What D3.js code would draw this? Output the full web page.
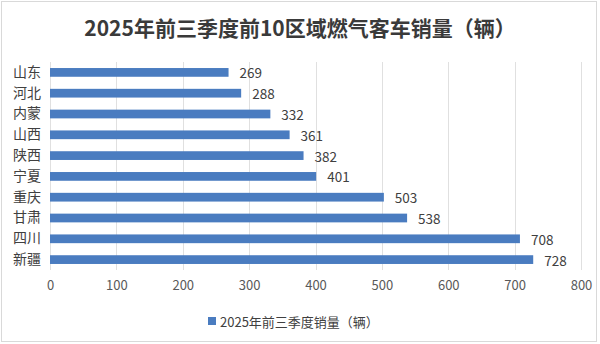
<!DOCTYPE html>
<html><head><meta charset="utf-8">
<script src="https://cdn.jsdelivr.net/npm/d3@7"></script>
<style>
html,body{margin:0;padding:0;background:#fff;}
svg{display:block;font-family:"Noto Sans CJK SC","Microsoft YaHei",sans-serif;}
</style></head>
<body>
<svg id="c" width="600" height="344"></svg>
<script>
const title = "2025年前三季度前10区域燃气客车销量（辆）";
const seriesName = "2025年前三季度销量（辆）";
const categories = ["山东","河北","内蒙","山西","陕西","宁夏","重庆","甘肃","四川","新疆"];
const values = [269,288,332,361,382,401,503,538,708,728];
const xTicks = [0,100,200,300,400,500,600,700,800];

const svg = d3.select("#c");
svg.append("rect").attr("x",1.5).attr("y",1.5).attr("width",595).attr("height",340)
  .attr("fill","#fff").attr("stroke","#d9d9d9").attr("stroke-width",1);

const x = d3.scaleLinear().domain([0,800]).range([50,581]);
const y = d3.scaleBand().domain(categories).range([62,270]).paddingInner(0.58).paddingOuter(0.29);

svg.append("text").attr("x",300).attr("y",27).attr("text-anchor","middle")
  .attr("dominant-baseline","central").attr("font-size",21).attr("font-weight","bold")
  .attr("fill","#3a3a3a").text(title);

// gridlines
svg.append("g").selectAll("line").data(xTicks).join("line")
  .attr("x1",d=>Math.round(x(d))+0.5).attr("x2",d=>Math.round(x(d))+0.5)
  .attr("y1",62).attr("y2",270).attr("stroke","#e0e0e0").attr("stroke-width",1);

// x axis labels via axis
const xAxis = svg.append("g").attr("transform","translate(0,282)")
  .call(d3.axisBottom(x).tickValues(xTicks).tickSize(0).tickPadding(0));
xAxis.select(".domain").remove();
xAxis.selectAll("text").attr("font-size",13).attr("fill","#595959")
  .attr("font-family","'Noto Sans CJK SC',sans-serif").attr("dy","0.6em");

// y axis labels
const yAxis = svg.append("g").attr("transform","translate(41,0)")
  .call(d3.axisLeft(y).tickSize(0).tickPadding(0));
yAxis.select(".domain").remove();
yAxis.selectAll("text").attr("font-size",14).attr("fill","#404040")
  .attr("font-family","'Noto Sans CJK SC',sans-serif");

// bars
svg.append("g").selectAll("rect").data(categories).join("rect")
  .attr("x",x(0)).attr("y",(d)=>y(d)).attr("height",y.bandwidth())
  .attr("width",(d,i)=>x(values[i])-x(0)).attr("fill","#4A7CC0");

// value labels
svg.append("g").selectAll("text").data(categories).join("text")
  .attr("x",(d,i)=>x(values[i])+11).attr("y",d=>y(d)+y.bandwidth()/2)
  .attr("dominant-baseline","central").attr("font-size",13.5).attr("fill","#404040")
  .text((d,i)=>values[i]);

// legend
const lg = svg.append("g");
lg.append("rect").attr("x",208).attr("y",317).attr("width",8).attr("height",8).attr("fill","#4A7CC0");
lg.append("text").attr("x",220).attr("y",321).attr("dominant-baseline","central")
  .attr("font-size",13).attr("fill","#404040").text(seriesName);
</script>
</body></html>
